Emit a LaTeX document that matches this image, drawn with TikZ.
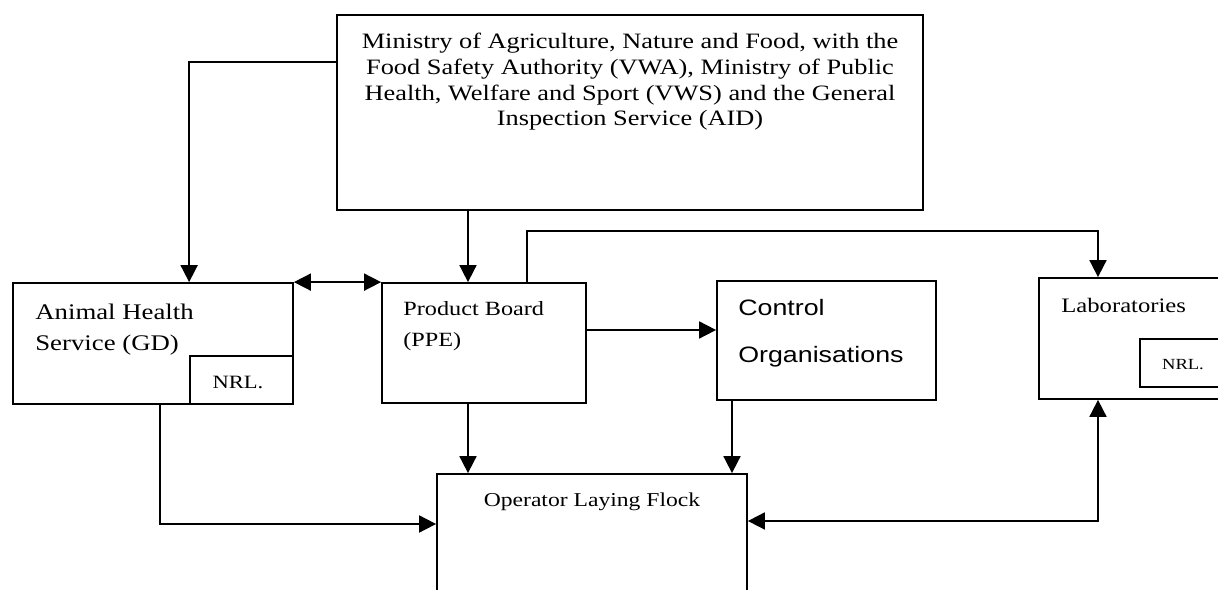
\documentclass[tikz,border=0pt]{standalone}
\usepackage{fontspec}
\setmainfont{Liberation Serif}[FakeStretch=1.2]
\newfontfamily\ctrlfont{Liberation Sans}[FakeStretch=1.2]
\usetikzlibrary{arrows.meta,fit}

\tikzset{
  box/.style={draw, line width=1pt, inner sep=0pt},
  arr/.style={line width=1pt, -{Triangle[length=0.34cm,width=0.34cm]}},
  biarr/.style={line width=1pt, {Triangle[length=0.34cm,width=0.34cm]}-{Triangle[length=0.34cm,width=0.34cm]}},
  txt/.style={inner sep=0pt, align=left, anchor=north west},
}

\begin{document}
\begin{tikzpicture}[x=0.02cm,y=-0.02cm]
   \useasboundingbox (0,0) rectangle (1218,590);
   \clip (0,0) rectangle (1218,590);

   % boxes
   \node[box, fit={(337,15) (923,210)}] (min) {};
   \node[box, fit={(13,283) (293,404)}] (ahs) {};
   \node[box, fit={(190,356) (293,404)}] (nrlA) {};
   \node[box, fit={(382,283) (586,403)}] (pb) {};
   \node[box, fit={(717,281) (936,400)}] (ctl) {};
   \node[box, fit={(437,474) (747,620)}] (op) {};
   \node[box, fit={(1039,278) (1230,399)}] (labs) {};
   \node[box, fit={(1140,339) (1230,387)}] (nrlB) {};

   % texts
   \node[txt, align=center, anchor=center, font=\fontsize{12.5}{14.6}\selectfont] (mintxt) at (630,82)
     {Ministry of Agriculture, Nature and Food, with the\\Food Safety Authority (VWA), Ministry of Public\\Health, Welfare and Sport (VWS) and the General\\Inspection Service (AID)};
   \node[txt, font=\fontsize{12.7}{17.6}\selectfont] (ahstxt) at (35,304) {Animal Health\\Service (GD)};
   \node[txt, font=\fontsize{11.5}{18}\selectfont] (pbtxt) at (403,301) {Product Board\\(PPE)};
   \node[txt, font=\ctrlfont\fontsize{12.7}{26.6}\selectfont] (ctltxt) at (738,299) {Control\\Organisations};
   \node[anchor=base, inner sep=0pt, font=\fontsize{11.2}{13}\selectfont] (optxt) at (592,507) {Operator Laying Flock};
   \node[anchor=base west, inner sep=0pt, font=\fontsize{11.7}{14}\selectfont] (labstxt) at (1061,313) {Laboratories};
   \node[anchor=base, inner sep=0pt, font=\fontsize{10.7}{12}\selectfont] (nrlAtxt) at (238,389) {NRL.};
   \node[anchor=base, inner sep=0pt, font=\fontsize{8.8}{10}\selectfont] (nrlBtxt) at (1183,370) {NRL.};

   % connectors
   \draw[arr] (min.west |- 0,62) -| (ahs.north -| nrlA.west);
   \draw[arr] (min.south -| 468,0) -- (pb.north -| 468,0);
   \draw[biarr] (ahs.north east) -- (pb.north west);
   \draw[arr] (pb.north -| 527,0) |- (1098,231) -- (labs.north -| 1098,0);
   \draw[arr] (pb.east |- 0,330) -- (ctl.west |- 0,330);
   \draw[arr] (pb.south -| 468,0) -- (op.north -| 468,0);
   \draw[arr] (ctl.south -| 732,0) -- (op.north -| 732,0);
   \draw[arr] (ahs.south -| 160,0) |- (op.west |- 0,524);
   \draw[biarr] (op.east |- 0,521) -| (labs.south -| 1098,0);
\end{tikzpicture}
\end{document}
